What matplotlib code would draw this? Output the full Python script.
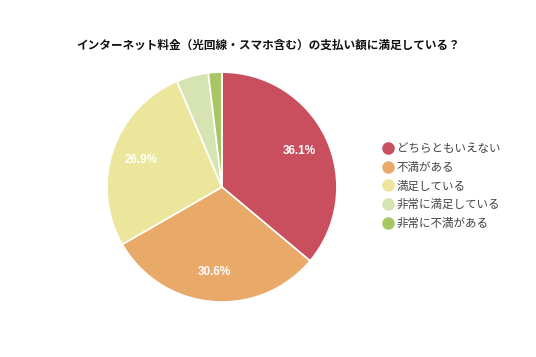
import matplotlib.pyplot as plt
from matplotlib.lines import Line2D

plt.rcParams['font.family'] = ['Noto Sans CJK JP', 'DejaVu Sans']

title = 'インターネット料金（光回線・スマホ含む）の支払い額に満足している？'
labels = ['どちらともいえない', '不満がある', '満足している', '非常に満足している', '非常に不満がある']
values = [36.1, 30.6, 26.9, 4.5, 1.9]
colors = ['#c94f5f', '#e9aa69', '#ece69c', '#d6e4b1', '#a8c764']

fig = plt.figure(figsize=(5.36, 3.57), dpi=100)
ax = fig.add_axes([0.1996, 0.154, 0.429, 0.644])


def pct(p):
    return '%.1f%%' % p if p >= 5 else ''


wedges, txt, auto = ax.pie(values, colors=colors, startangle=90, counterclock=False,
                           autopct=pct, pctdistance=0.74, radius=1.0,
                           wedgeprops=dict(edgecolor='white', linewidth=1.2))
for t in auto:
    t.set_color('white')
    t.set_fontweight('bold')
    t.set_fontsize(8.5)
    t.set_family(['Liberation Sans'])
ax.set_xlim(-1, 1)
ax.set_ylim(-1, 1)
ax.set_aspect('equal')

fig.text(0.5, 0.873, title, ha='center', va='center', fontsize=8.4,
         fontweight='bold', color='#111111')

handles = [Line2D([], [], marker='o', linestyle='', markersize=8,
                  markerfacecolor=c, markeredgecolor=c) for c in colors]
leg = fig.legend(handles, labels, loc='center left', bbox_to_anchor=(0.691, 0.479),
                 frameon=False, fontsize=8.3, handletextpad=0.2,
                 labelspacing=0.5, handlelength=1.2)
for t in leg.get_texts():
    t.set_color('#444444')

plt.savefig('out.png', dpi=100)
